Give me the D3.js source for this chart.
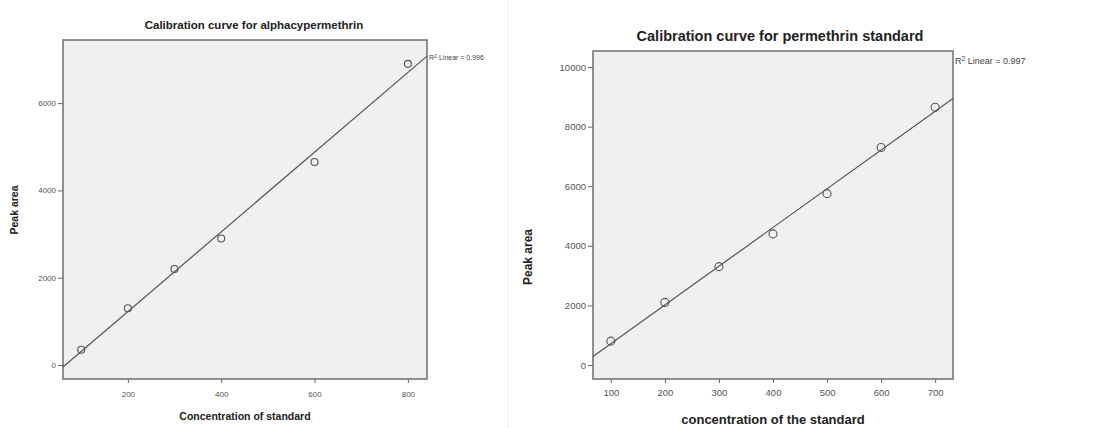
<!DOCTYPE html>
<html>
<head>
<meta charset="utf-8">
<script src="https://cdn.jsdelivr.net/npm/d3@7"></script>
<style>
  body { margin: 0; background: #fff; }
  svg { display: block; font-family: "Liberation Sans", Arial, sans-serif; }
</style>
</head>
<body>
<svg id="chart" width="1097" height="428"></svg>
<script>
// left chart: alphacypermethrin
var alphaConc = [100, 200, 300, 400, 600, 800];
var alphaArea = [350, 1300, 2200, 2900, 4650, 6900];
var alphaXTicks = [200, 400, 600, 800];
var alphaYTicks = [0, 2000, 4000, 6000];

// right chart: permethrin
var permConc = [100, 200, 300, 400, 500, 600, 700];
var permArea = [800, 2100, 3300, 4400, 5750, 7300, 8650];
var permXTicks = [100, 200, 300, 400, 500, 600, 700];
var permYTicks = [0, 2000, 4000, 6000, 8000, 10000];

var svg = d3.select("#chart");

// faint divider between the two panels
svg.append("line")
    .attr("x1", 508).attr("x2", 508)
    .attr("y1", 0).attr("y2", 428)
    .style("stroke", "#eeeeee");

function fit(xs, ys) {
  var mx = d3.mean(xs), my = d3.mean(ys);
  var sxy = d3.sum(xs, function(x, i) { return (x - mx) * (ys[i] - my); });
  var sxx = d3.sum(xs, function(x) { return (x - mx) * (x - mx); });
  var b = sxy / sxx;
  return { a: my - b * mx, b: b };
}

function draw(cfg) {
  var x = d3.scaleLinear().domain(cfg.xDomain).range([cfg.left, cfg.right]);
  var y = d3.scaleLinear().domain(cfg.yDomain).range([cfg.bottom, cfg.top]);

  var g = svg.append("g");

  g.append("rect")
      .attr("x", cfg.left).attr("y", cfg.top)
      .attr("width", cfg.right - cfg.left)
      .attr("height", cfg.bottom - cfg.top)
      .style("fill", "#f0f0f0")
      .style("stroke", "#6e6e6e")
      .style("stroke-width", 1.5);

  var yAxis = g.append("g")
      .attr("transform", "translate(" + cfg.left + ",0)")
      .call(d3.axisLeft(y).tickValues(cfg.yTicks).tickSize(5).tickPadding(2).tickFormat(d3.format("d")));
  var xAxis = g.append("g")
      .attr("transform", "translate(0," + cfg.bottom + ")")
      .call(d3.axisBottom(x).tickValues(cfg.xTicks).tickSize(4).tickPadding(cfg.xPad).tickFormat(d3.format("d")));

  [xAxis, yAxis].forEach(function(ax) {
    ax.select(".domain").remove();
    ax.selectAll("line").style("stroke", "#666");
    ax.selectAll("text")
        .style("font-size", cfg.tickSize + "px")
        .style("fill", "#555")
        .style("font-family", "'Liberation Sans', Arial, sans-serif");
  });

  // regression line across the full x range
  var f = fit(cfg.xs, cfg.ys);
  var x0 = cfg.xDomain[0], x1 = cfg.xDomain[1];
  g.append("line")
      .attr("x1", x(x0)).attr("y1", y(f.a + f.b * x0))
      .attr("x2", x(x1)).attr("y2", y(f.a + f.b * x1))
      .style("stroke", "#555")
      .style("stroke-width", 1.2);

  g.selectAll("circle.pt")
      .data(cfg.xs)
    .enter().append("circle")
      .attr("class", "pt")
      .attr("cx", function(d) { return x(d); })
      .attr("cy", function(d, i) { return y(cfg.ys[i]); })
      .attr("r", cfg.r)
      .style("fill", "none")
      .style("stroke", "#555")
      .style("stroke-width", 1.1);

  var r2 = g.append("text")
      .attr("x", cfg.right + 2)
      .attr("y", cfg.r2Y)
      .style("font-size", cfg.r2Size + "px")
      .style("fill", "#444");
  r2.append("tspan").text("R");
  r2.append("tspan").attr("dy", -cfg.r2Size * 0.35).style("font-size", (cfg.r2Size * 0.75) + "px").text("2");
  r2.append("tspan").attr("dy", cfg.r2Size * 0.35).text(" Linear = " + cfg.r2);

  g.append("text")
      .attr("x", cfg.titleX).attr("y", cfg.titleY)
      .attr("text-anchor", "middle")
      .style("font-size", cfg.titleSize + "px")
      .style("font-weight", "bold")
      .style("fill", "#222")
      .text(cfg.title);

  g.append("text")
      .attr("x", cfg.xLabelX).attr("y", cfg.xLabelY)
      .attr("text-anchor", "middle")
      .style("font-size", cfg.xLabelSize + "px")
      .style("font-weight", "bold")
      .style("fill", "#222")
      .text(cfg.xLabel);

  g.append("text")
      .attr("transform", "translate(" + cfg.yLabelX + "," + cfg.yLabelY + ") rotate(-90)")
      .attr("text-anchor", "middle")
      .style("font-size", cfg.yLabelSize + "px")
      .style("font-weight", "bold")
      .style("fill", "#222")
      .text("Peak area");
}

draw({
  xs: alphaConc, ys: alphaArea,
  xTicks: alphaXTicks, yTicks: alphaYTicks,
  xDomain: [61, 841], yDomain: [-320, 7446],
  left: 63, right: 427, top: 40, bottom: 379,
  tickSize: 8, r: 3.5, xPad: 8,
  r2: "0.996", r2Y: 60, r2Size: 7,
  title: "Calibration curve for alphacypermethrin", titleX: 254, titleY: 29, titleSize: 11.5,
  xLabel: "Concentration of standard", xLabelX: 245, xLabelY: 420, xLabelSize: 10.5,
  yLabel: "Peak area", yLabelX: 18, yLabelY: 210, yLabelSize: 10.5
});

draw({
  xs: permConc, ys: permArea,
  xTicks: permXTicks, yTicks: permYTicks,
  xDomain: [67, 733], yDomain: [-470, 10537],
  left: 593, right: 953, top: 51, bottom: 379,
  tickSize: 9.5, r: 4, xPad: 6,
  r2: "0.997", r2Y: 64, r2Size: 9,
  title: "Calibration curve for permethrin standard", titleX: 780, titleY: 41, titleSize: 14.5,
  xLabel: "concentration of the standard", xLabelX: 773, xLabelY: 424, xLabelSize: 13,
  yLabel: "Peak area", yLabelX: 532, yLabelY: 257, yLabelSize: 12
});
</script>
</body>
</html>
